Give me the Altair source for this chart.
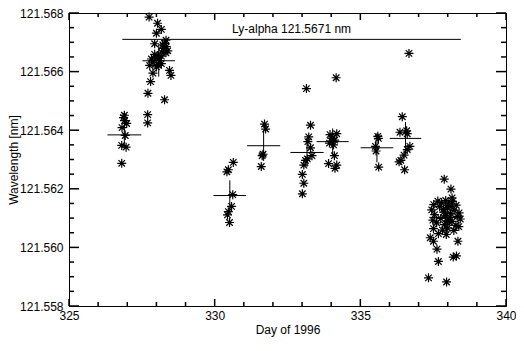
import altair as alt
import pandas as pd

FONT = "Liberation Sans"

# ---- measurement points (day of 1996, wavelength in nm), grouped by observing run ----
c1_day = [326.90, 326.87, 326.91, 326.98, 326.82, 326.93, 326.81, 326.96, 326.81]
c1_wl = [121.56451, 121.56443, 121.56433, 121.56423, 121.56409, 121.56382, 121.56348, 121.56342, 121.56287]

c2_day = [327.75, 328.04, 328.17, 328.00, 328.33, 328.28, 327.94, 328.22, 328.39, 328.33, 327.94,
          328.05, 328.17, 327.83, 328.11, 327.88, 328.17, 327.77, 328.00, 328.45, 327.88, 328.50,
          327.80, 327.71, 328.28, 327.70, 327.70, 328.24, 327.99, 328.18, 328.34, 328.07]
c2_wl = [121.56786, 121.56765, 121.56744, 121.56731, 121.56707, 121.56696, 121.56695, 121.56691,
         121.56671, 121.56664, 121.56659, 121.56653, 121.56653, 121.56643, 121.56637, 121.56632,
         121.56627, 121.56621, 121.56616, 121.56604, 121.56595, 121.56587, 121.56566, 121.56526,
         121.56504, 121.56453, 121.56425, 121.56679, 121.56647, 121.56666, 121.56685, 121.56621]

c3_day = [330.64, 330.47, 330.42, 330.62, 330.58, 330.47, 330.44, 330.51]
c3_wl = [121.56290, 121.56265, 121.56258, 121.56180, 121.56140, 121.56122, 121.56111, 121.56085]

c4_day = [331.71, 331.75, 331.66, 331.63, 331.60]
c4_wl = [121.56421, 121.56404, 121.56318, 121.56313, 121.56276]

c5_day = [333.15, 333.29, 333.23, 333.20, 333.29, 333.34, 333.18, 333.12, 333.06, 333.01, 333.06, 333.01]
c5_wl = [121.56542, 121.56417, 121.56377, 121.56361, 121.56340, 121.56313, 121.56302, 121.56297,
         121.56281, 121.56249, 121.56219, 121.56183]

c6_day = [334.17, 333.96, 334.19, 334.02, 333.94, 334.08, 334.11, 333.91, 334.19, 334.13, 334.02, 334.12, 334.05]
c6_wl = [121.56579, 121.56385, 121.56388, 121.56372, 121.56356, 121.56350, 121.56313, 121.56286,
         121.56281, 121.56270, 121.56363, 121.56366, 121.56372]

c7_day = [335.60, 335.62, 335.52, 335.54, 335.63]
c7_wl = [121.56379, 121.56372, 121.56345, 121.56329, 121.56274]

c8_day = [336.67, 336.44, 336.36, 336.59, 336.61, 336.70, 336.61, 336.50, 336.39, 336.33, 336.52]
c8_wl = [121.56662, 121.56446, 121.56393, 121.56398, 121.56388, 121.56345, 121.56334, 121.56315,
         121.56297, 121.56292, 121.56265]

c9_day = [337.88, 338.11, 338.15, 337.40, 337.51, 337.63, 338.35, 337.68, 338.19, 338.30, 337.34, 337.96,
          337.52, 337.66, 337.79, 337.93, 338.02, 338.16, 338.29, 337.45, 337.72, 337.99, 338.22, 338.39,
          337.55, 337.86, 338.09, 338.33, 337.49, 337.76, 337.92, 338.15, 338.43, 337.62, 337.89, 338.05,
          338.28, 337.51, 337.82, 338.00, 338.21, 338.38, 337.68, 337.95, 337.85, 338.08, 337.98, 338.12]
c9_wl = [121.56233, 121.56199, 121.56169, 121.56033, 121.56021, 121.55994, 121.56021, 121.55952,
         121.55967, 121.55971, 121.55896, 121.55882,
         121.56146, 121.56158, 121.56152, 121.56160, 121.56149, 121.56157, 121.56144, 121.56128,
         121.56139, 121.56135, 121.56127, 121.56118, 121.56112, 121.56120, 121.56116, 121.56106,
         121.56093, 121.56099, 121.56108, 121.56089, 121.56097, 121.56084, 121.56078, 121.56087,
         121.56075, 121.56064, 121.56059, 121.56066, 121.56058, 121.56071, 121.56047, 121.56044,
         121.56130, 121.56102, 121.56090, 121.56140]

# ---- run means with spread (crosses) ----
cross_day = [326.90, 328.08, 330.52, 331.68, 333.17, 334.05, 335.57, 336.55, 337.94]
cross_wl = [121.56384, 121.56637, 121.56177, 121.56347, 121.56324, 121.56361, 121.56340, 121.56372, 121.56102]
cross_dday = [0.58, 0.56, 0.56, 0.57, 0.57, 0.55, 0.56, 0.54, 0.56]
cross_dwl = [0.00048, 0.00054, 0.00052, 0.00052, 0.00049, 0.00045, 0.00050, 0.00056, 0.00062]

# ---- reference line ----
lya_wl = 121.5671
lya_start = 326.83
lya_end = 338.45
lya_label = "Ly-alpha 121.5671 nm"

# ---- axis ticks ----
x_major = [325, 330, 335, 340]
x_minor = [326, 327, 328, 329, 331, 332, 333, 334, 336, 337, 338, 339]
y_major = [121.558, 121.560, 121.562, 121.564, 121.566, 121.568]
y_minor = [121.5585, 121.559, 121.5595, 121.5605, 121.561, 121.5615, 121.5625, 121.563, 121.5635,
           121.5645, 121.565, 121.5655, 121.5665, 121.567, 121.5675]

X_DOM = [325, 340]
Y_DOM = [121.558, 121.568]

# ---- build tables ----
all_day = c1_day + c2_day + c3_day + c4_day + c5_day + c6_day + c7_day + c8_day + c9_day
all_wl = c1_wl + c2_wl + c3_wl + c4_wl + c5_wl + c6_wl + c7_wl + c8_wl + c9_wl
pts = pd.DataFrame({"day": all_day, "wl": all_wl})

cross = pd.DataFrame({"day": cross_day, "wl": cross_wl, "dd": cross_dday, "dw": cross_dwl})
cross["d1"] = cross["day"] - cross["dd"]
cross["d2"] = cross["day"] + cross["dd"]
cross["w1"] = cross["wl"] - cross["dw"]
cross["w2"] = cross["wl"] + cross["dw"]

lya = pd.DataFrame({"d1": [lya_start], "d2": [lya_end], "wl": [lya_wl],
                    "day": [(lya_start + lya_end) / 2], "label": [lya_label]})

W, H = 437, 293


def px_to_y(px):
    return px / H * (Y_DOM[1] - Y_DOM[0])


def px_to_x(px):
    return px / W * (X_DOM[1] - X_DOM[0])


xt_rows = []
for vals, length in [(x_major, 7), (x_minor, 4)]:
    for v in vals:
        xt_rows.append({"day": v, "w1": Y_DOM[0], "w2": Y_DOM[0] + px_to_y(length)})
        xt_rows.append({"day": v, "w1": Y_DOM[1], "w2": Y_DOM[1] - px_to_y(length)})
xticks = pd.DataFrame(xt_rows)

yt_rows = []
for vals, length in [(y_major, 10), (y_minor, 5)]:
    for v in vals:
        yt_rows.append({"wl": v, "d1": X_DOM[0], "d2": X_DOM[0] + px_to_x(length)})
        yt_rows.append({"wl": v, "d1": X_DOM[1], "d2": X_DOM[1] - px_to_x(length)})
yticks = pd.DataFrame(yt_rows)

xscale = alt.Scale(domain=X_DOM, nice=False, zero=False)
yscale = alt.Scale(domain=Y_DOM, nice=False, zero=False)

xaxis = alt.Axis(values=x_major, format="d", title="Day of 1996", ticks=False, grid=False,
                 labelFlush=False, labelOverlap=False, labelFontSize=12, titleFontSize=12,
                 labelFont=FONT, titleFont=FONT, labelColor="black", titleColor="black",
                 labelPadding=4, titlePadding=3, titleFontWeight="normal", domainColor="black")
yaxis = alt.Axis(values=y_major, format=".3f", title="Wavelength [nm]", ticks=False, grid=False,
                 labelFlush=False, labelOverlap=False, labelFontSize=12, titleFontSize=12,
                 labelFont=FONT, titleFont=FONT, labelColor="black", titleColor="black",
                 labelPadding=6, titleFontWeight="normal", domainColor="black",
                 titleX=-52, titleY=H / 2, titleBaseline="alphabetic", titleAlign="center")

ASTER = "M-1,0L1,0M0,-1L0,1M-0.72,-0.72L0.72,0.72M-0.72,0.72L0.72,-0.72"

xtick_layer = alt.Chart(xticks).mark_rule(color="black", strokeWidth=1.5, opacity=1).encode(
    x=alt.X("day:Q", scale=xscale, axis=xaxis),
    y=alt.Y("w1:Q", scale=yscale, axis=yaxis), y2="w2:Q",
)
ytick_layer = alt.Chart(yticks).mark_rule(color="black", strokeWidth=1.5, opacity=1).encode(
    x=alt.X("d1:Q", scale=xscale, axis=xaxis), x2="d2:Q",
    y=alt.Y("wl:Q", scale=yscale, axis=yaxis),
)

points = alt.Chart(pts).mark_point(shape=ASTER, size=81, filled=False, stroke="black",
                                   strokeWidth=1.2, opacity=1).encode(
    x=alt.X("day:Q", scale=xscale, axis=xaxis),
    y=alt.Y("wl:Q", scale=yscale, axis=yaxis),
)

hbar = alt.Chart(cross).mark_rule(color="black", strokeWidth=1).encode(
    x=alt.X("d1:Q", scale=xscale, axis=xaxis), x2="d2:Q",
    y=alt.Y("wl:Q", scale=yscale, axis=yaxis),
)
vbar = alt.Chart(cross).mark_rule(color="black", strokeWidth=1).encode(
    x=alt.X("day:Q", scale=xscale, axis=xaxis),
    y=alt.Y("w1:Q", scale=yscale, axis=yaxis), y2="w2:Q",
)

lya_line = alt.Chart(lya).mark_rule(color="black", strokeWidth=1).encode(
    x=alt.X("d1:Q", scale=xscale, axis=xaxis), x2="d2:Q",
    y=alt.Y("wl:Q", scale=yscale, axis=yaxis),
)
lya_text = alt.Chart(lya).mark_text(align="center", baseline="bottom", dy=-3, fontSize=12,
                                    font=FONT, color="black").encode(
    x=alt.X("day:Q", scale=xscale, axis=xaxis),
    y=alt.Y("wl:Q", scale=yscale, axis=yaxis),
    text="label:N",
)

chart = alt.layer(xtick_layer, ytick_layer, points, hbar, vbar, lya_line, lya_text).properties(
    width=W, height=H,
    autosize=alt.AutoSizeParams(type="none"),
    padding={"left": 61, "right": 10, "top": 5, "bottom": 32},
    background="white",
).configure_view(stroke="black", strokeWidth=1)

chart.save("out.html", embed_options={"renderer": "svg", "actions": False})
